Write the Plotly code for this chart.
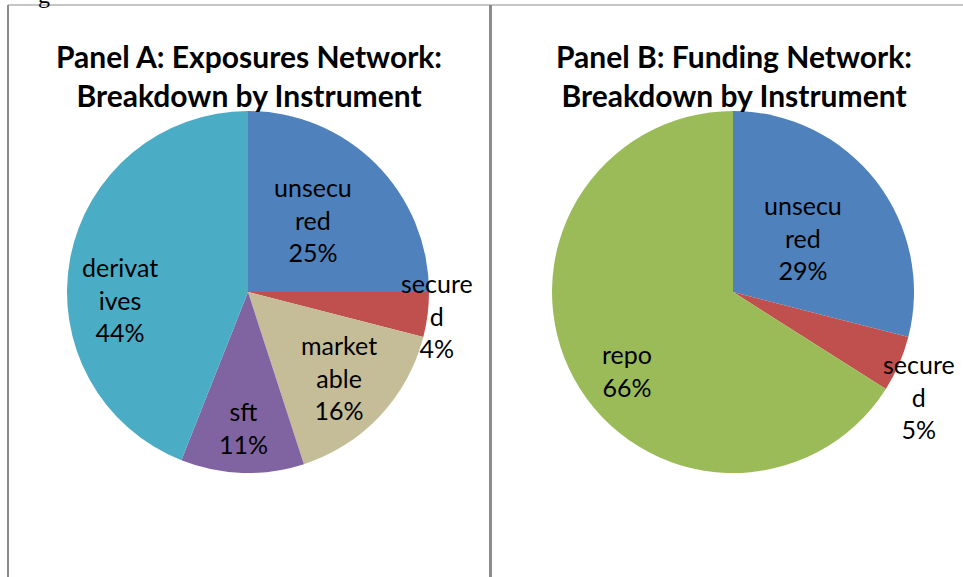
import math
import plotly.graph_objects as go

W, H = 963, 577

# ---- data ----
a_labels = ["unsecured", "secured", "marketable", "sft", "derivatives"]
a_display = ["unsecu<br>red", "secure<br>d", "market<br>able", "sft", "derivat<br>ives"]
a_values = [25, 4, 16, 11, 44]
a_colors = ["#4F81BD", "#C0504D", "#C4BD97", "#8064A2", "#4BACC6"]

b_labels = ["unsecured", "secured", "repo"]
b_display = ["unsecu<br>red", "secure<br>d", "repo"]
b_values = [29, 5, 66]
b_colors = ["#4F81BD", "#C0504D", "#9BBB59"]

titles = ["Panel A: Exposures Network:<br>Breakdown by Instrument",
          "Panel B: Funding Network:<br>Breakdown by Instrument"]

# ---- layout (pixels) ----
R = 181
centers = [(248, 292), (733, 292)]
# label placement style: radius fraction and angular nudge (deg) per slice
a_lab_r = [0.54, 1.05, 0.69, 0.75, 0.71]
a_lab_da = [-3, 0, 0, 0, -14]
b_lab_r = [0.49, 1.18, 0.73]
b_lab_da = [0, 6, -7.6]

FONT = "Lato"

fig = go.Figure()


def dom(cx, cy):
    return dict(x=[(cx - R) / W, (cx + R) / W],
                y=[1 - (cy + R) / H, 1 - (cy - R) / H])


for (labels, values, colors), (cx, cy) in zip(
        [(a_labels, a_values, a_colors), (b_labels, b_values, b_colors)], centers):
    fig.add_trace(go.Pie(
        labels=labels, values=values, sort=False, direction="clockwise",
        rotation=0, marker=dict(colors=colors, line=dict(width=0)),
        textinfo="none", hoverinfo="label+percent", showlegend=False,
        domain=dom(cx, cy)))

annotations = []
for disp, values, lr, lda, (cx, cy) in [
        (a_display, a_values, a_lab_r, a_lab_da, centers[0]),
        (b_display, b_values, b_lab_r, b_lab_da, centers[1])]:
    total = sum(values)
    cum = 0
    for d, v, f, da in zip(disp, values, lr, lda):
        mid = (cum + v / 2) / total * 360 + da
        cum += v
        th = math.radians(mid)
        px = cx + f * R * math.sin(th)
        py = cy - f * R * math.cos(th)
        pct = round(v / total * 100)
        annotations.append(dict(
            x=px / W, y=1 - py / H, xref="paper", yref="paper",
            text=f"{d}<br>{pct}%", showarrow=False, xanchor="center", yanchor="middle",
            font=dict(family=FONT, size=25, color="#000000")))

for t, (cx, cy) in zip(titles, centers):
    annotations.append(dict(
        x=(cx + 1) / W, y=1 - 75 / H, xref="paper", yref="paper", text=f"<b>{t}</b>",
        showarrow=False, xanchor="center", yanchor="middle",
        font=dict(family=FONT, size=30, color="#000000")))

# clipped caption remnant at very top
annotations.append(dict(x=44 / W, y=1 + 5 / H, xref="paper", yref="paper", text="g",
                        showarrow=False, xanchor="center", yanchor="middle",
                        font=dict(family="Liberation Serif", size=24, color="#000000")))

shapes = [
    dict(type="line", xref="paper", yref="paper", x0=8 / W, x1=1, y0=1 - 5 / H, y1=1 - 5 / H,
         line=dict(color="#8C8C8C", width=1)),
    dict(type="line", xref="paper", yref="paper", x0=8 / W, x1=8 / W, y0=0, y1=1 - 5 / H,
         line=dict(color="#8C8C8C", width=2)),
    dict(type="line", xref="paper", yref="paper", x0=490.5 / W, x1=490.5 / W, y0=0, y1=1 - 5 / H,
         line=dict(color="#8C8C8C", width=3)),
]

fig.update_layout(width=W, height=H, margin=dict(l=0, r=0, t=0, b=0),
                  paper_bgcolor="white", plot_bgcolor="white",
                  annotations=annotations, shapes=shapes)

fig.write_html("out.html", config={"displayModeBar": False},
               post_script="document.body.style.margin='0px';document.body.style.overflow='hidden';")
